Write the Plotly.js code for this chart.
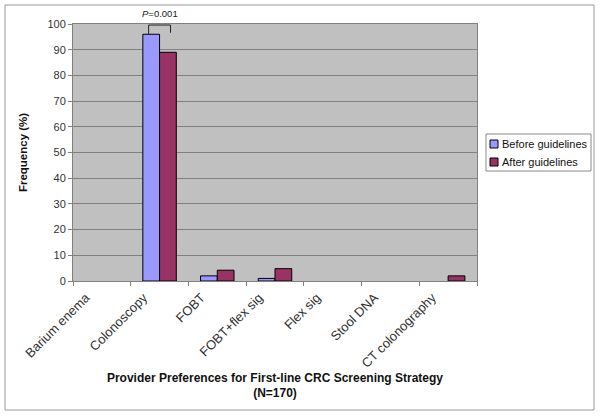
<!DOCTYPE html>
<html>
<head>
<meta charset="utf-8">
<script src="https://cdn.plot.ly/plotly-3.0.1.min.js"></script>
<style>
html,body{margin:0;padding:0;background:#fff;}
#chart{width:600px;height:417px;}
</style>
</head>
<body>
<div id="chart"></div>
<script>
var categories = ["Barium enema", "Colonoscopy", "FOBT", "FOBT+flex sig", "Flex sig", "Stool DNA", "CT colonography"];
var beforeValues = [0, 96, 2, 1, 0, 0, 0];
var afterValues = [0, 89, 4.2, 4.8, 0, 0, 2];
var seriesNames = ["Before guidelines", "After guidelines"];
var seriesColors = ["#9999FF", "#993366"];
var yTicks = [0, 10, 20, 30, 40, 50, 60, 70, 80, 90, 100];
var pLabel = "<i>P</i>=0.001";
var pCategoryIndex = 1;
var bracketTop = 99.6;

var font = "Liberation Sans, Arial, sans-serif";
var yMax = 100;

// plot-area geometry (pixels) used to place the legend box and frame in paper units
var W = 600, H = 417, mL = 73, mR = 123, mT = 24, mB = 136;
var pw = W - mL - mR, ph = H - mT - mB;
function px(x) { return (x - mL) / pw; }
function py(y) { return (H - mB - y) / ph; }

function outlineWidths(vals) { return vals.map(function (v) { return v > 0 ? 1 : 0; }); }

var seriesValues = [beforeValues, afterValues];
var traces = seriesValues.map(function (vals, i) {
  return {type: "bar", name: seriesNames[i], x: categories, y: vals,
          marker: {color: seriesColors[i], line: {color: "#000000", width: outlineWidths(vals)}}};
});

var ci = pCategoryIndex;
var shapes = [
  {type: "path", xref: "x", yref: "y",
   path: "M " + (ci - 0.19) + "," + beforeValues[ci] + " L " + (ci - 0.19) + "," + bracketTop +
         " L " + (ci + 0.19) + "," + bracketTop + " L " + (ci + 0.19) + "," + (bracketTop - 3),
   line: {color: "#222", width: 1}},
  {type: "rect", xref: "paper", yref: "paper", x0: px(5), x1: px(594), y0: py(410), y1: py(5),
   line: {color: "#999999", width: 1}, fillcolor: "rgba(0,0,0,0)", layer: "above"},
  {type: "rect", xref: "paper", yref: "paper", x0: px(486), x1: px(591), y0: py(171), y1: py(134),
   line: {color: "#888888", width: 1}, fillcolor: "#ffffff", layer: "above"}
];
var annotations = [
  {x: ci, y: py(21), xref: "x", yref: "paper", yanchor: "bottom", text: pLabel, showarrow: false,
   font: {family: font, size: 9.5, color: "#222"}}
];
seriesNames.forEach(function (name, i) {
  var cy = 144 + i * 18;
  shapes.push({type: "rect", xref: "paper", yref: "paper", x0: px(490), x1: px(498),
               y0: py(cy + 4), y1: py(cy - 4), fillcolor: seriesColors[i],
               line: {color: "#000000", width: 1}, layer: "above"});
  annotations.push({x: px(500), y: py(cy), xref: "paper", yref: "paper", xanchor: "left",
                    yanchor: "middle", text: name, showarrow: false,
                    font: {family: font, size: 11, color: "#111"}});
});

var layout = {
  width: W, height: H,
  margin: {l: mL, r: mR, t: mT, b: mB, autoexpand: false},
  paper_bgcolor: "#ffffff",
  plot_bgcolor: "#C0C0C0",
  font: {family: font, size: 11, color: "#222"},
  barmode: "group",
  bargap: 0.42,
  bargroupgap: 0,
  showlegend: false,
  xaxis: {type: "category", tickson: "boundaries", ticks: "outside", ticklen: 4,
          tickcolor: "#808080", tickangle: -45, showline: true, mirror: true,
          linecolor: "#808080", linewidth: 1, showgrid: false,
          ticklabelshift: -16, ticklabelstandoff: 3,
          tickfont: {family: font, size: 13, color: "#333"},
          title: {text: "<b>Provider Preferences for First-line CRC Screening Strategy<br>(N=170)</b>",
                  font: {family: font, size: 12, color: "#111"}, standoff: 0}},
  yaxis: {range: [0, yMax], tickvals: yTicks, ticks: "outside", ticklen: 4,
          tickcolor: "#808080", showline: true, mirror: true, linecolor: "#808080",
          linewidth: 1, showgrid: true, gridcolor: "#808080", gridwidth: 1,
          zeroline: false,
          tickfont: {family: font, size: 11, color: "#333"},
          title: {text: "<b>Frequency (%)</b>", font: {family: font, size: 11.5, color: "#111"}, standoff: 17}},
  shapes: shapes,
  annotations: annotations
};

Plotly.newPlot("chart", traces, layout, {displayModeBar: false, staticPlot: true});
</script>
</body>
</html>
